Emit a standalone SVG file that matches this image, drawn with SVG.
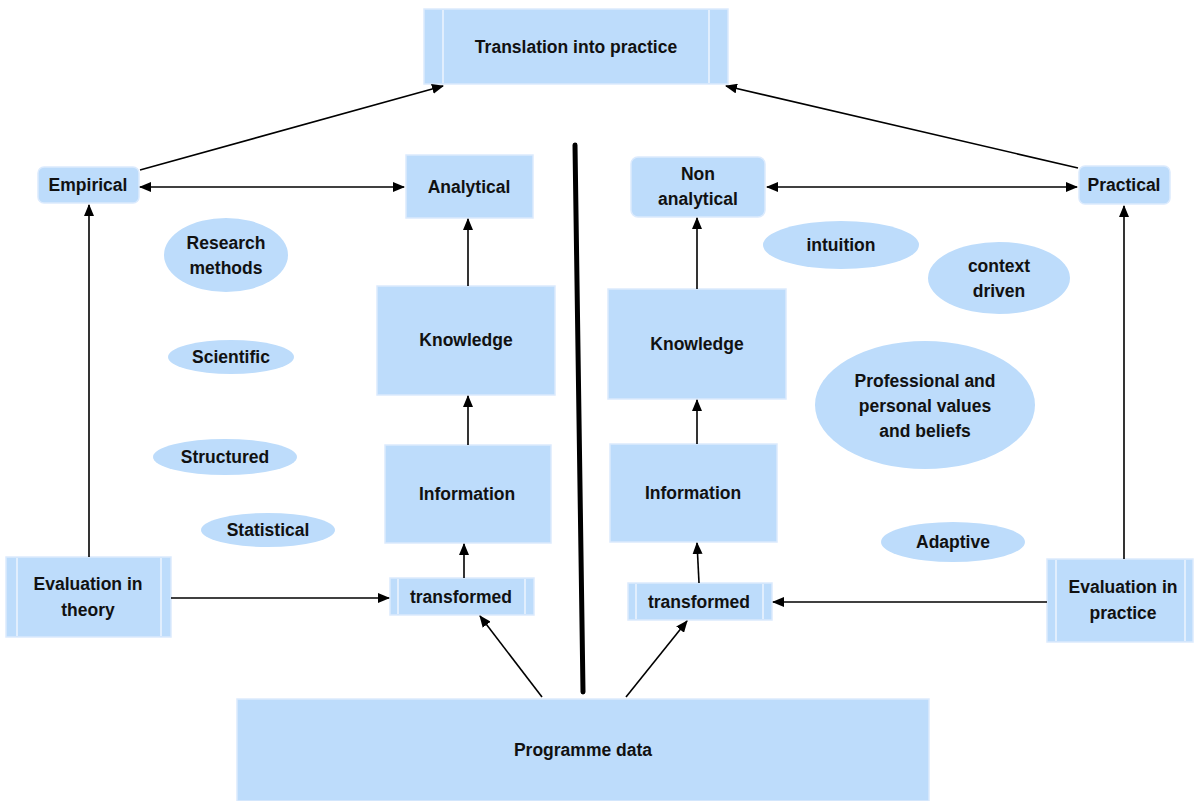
<svg xmlns="http://www.w3.org/2000/svg" width="1194" height="801" viewBox="0 0 1194 801">
<style>
.box{fill:#bddcfb;stroke:#dbeafd;stroke-width:1.5}
.el{fill:#bddcfb;stroke:none}
.sep{stroke:#eef5fe;stroke-width:1.5}
.t{font-family:"Liberation Sans",Arial,sans-serif;font-weight:bold;font-size:17.5px;fill:#111;text-anchor:middle}
.c{stroke:#000;stroke-width:1.6;fill:none}
</style>
<defs>
<marker id="ah" viewBox="0 0 12 10" refX="11" refY="5" markerWidth="12" markerHeight="10" markerUnits="userSpaceOnUse" orient="auto-start-reverse">
<path d="M0,0 L12,5 L0,10 Z" fill="#000"/>
</marker>
</defs>
<rect width="1194" height="801" fill="#fff"/>

<g id="translation">
<rect class="box" x="424" y="9" width="304" height="75"/>
<line class="sep" x1="443" y1="10" x2="443" y2="83"/>
<line class="sep" x1="709" y1="10" x2="709" y2="83"/>
<text class="t" x="576" y="53">Translation into practice</text>
</g>

<g id="empirical">
<rect class="box" x="38" y="167" width="101" height="36" rx="6"/>
<text class="t" x="88" y="191">Empirical</text>
</g>

<g id="analytical">
<rect class="box" x="406" y="155" width="127" height="63"/>
<text class="t" x="469" y="193">Analytical</text>
</g>

<g id="nonanalytical">
<rect class="box" x="631" y="157" width="134" height="60" rx="7"/>
<text class="t" x="698" y="180">Non</text>
<text class="t" x="698" y="205">analytical</text>
</g>

<g id="practical">
<rect class="box" x="1079" y="166" width="91" height="38" rx="6"/>
<text class="t" x="1124" y="191">Practical</text>
</g>

<g id="research">
<ellipse class="el" cx="226" cy="255" rx="62" ry="37"/>
<text class="t" x="226" y="249">Research</text>
<text class="t" x="226" y="274">methods</text>
</g>
<g id="scientific">
<ellipse class="el" cx="231" cy="357" rx="63" ry="17"/>
<text class="t" x="231" y="363">Scientific</text>
</g>
<g id="structured">
<ellipse class="el" cx="225" cy="457" rx="72" ry="18"/>
<text class="t" x="225" y="463">Structured</text>
</g>
<g id="statistical">
<ellipse class="el" cx="268" cy="530" rx="67" ry="17"/>
<text class="t" x="268" y="536">Statistical</text>
</g>

<g id="intuition">
<ellipse class="el" cx="841" cy="245" rx="78" ry="24"/>
<text class="t" x="841" y="251">intuition</text>
</g>
<g id="context">
<ellipse class="el" cx="999" cy="278" rx="71" ry="36"/>
<text class="t" x="999" y="272">context</text>
<text class="t" x="999" y="297">driven</text>
</g>
<g id="values">
<ellipse class="el" cx="925" cy="405" rx="110" ry="64"/>
<text class="t" x="925" y="387">Professional and</text>
<text class="t" x="925" y="412">personal values</text>
<text class="t" x="925" y="437">and beliefs</text>
</g>
<g id="adaptive">
<ellipse class="el" cx="953" cy="542" rx="72" ry="20"/>
<text class="t" x="953" y="548">Adaptive</text>
</g>

<g id="knowledge-left">
<rect class="box" x="377" y="286" width="178" height="109"/>
<text class="t" x="466" y="346">Knowledge</text>
</g>
<g id="information-left">
<rect class="box" x="385" y="445" width="166" height="98"/>
<text class="t" x="467" y="500">Information</text>
</g>
<g id="transformed-left">
<rect class="box" x="390" y="578" width="144" height="37"/>
<line class="sep" x1="398" y1="579" x2="398" y2="614"/>
<line class="sep" x1="525" y1="579" x2="525" y2="614"/>
<text class="t" x="461" y="603">transformed</text>
</g>

<g id="knowledge-right">
<rect class="box" x="608" y="289" width="178" height="110"/>
<text class="t" x="697" y="350">Knowledge</text>
</g>
<g id="information-right">
<rect class="box" x="610" y="444" width="167" height="98"/>
<text class="t" x="693" y="499">Information</text>
</g>
<g id="transformed-right">
<rect class="box" x="628" y="583" width="144" height="37"/>
<line class="sep" x1="636" y1="584" x2="636" y2="619"/>
<line class="sep" x1="763" y1="584" x2="763" y2="619"/>
<text class="t" x="699" y="608">transformed</text>
</g>

<g id="eval-theory">
<rect class="box" x="6" y="557" width="165" height="80"/>
<line class="sep" x1="17" y1="558" x2="17" y2="636"/>
<line class="sep" x1="161" y1="558" x2="161" y2="636"/>
<text class="t" x="88" y="590">Evaluation in</text>
<text class="t" x="88" y="616">theory</text>
</g>

<g id="eval-practice">
<rect class="box" x="1047" y="559" width="146" height="83"/>
<line class="sep" x1="1056" y1="560" x2="1056" y2="641"/>
<line class="sep" x1="1185" y1="560" x2="1185" y2="641"/>
<text class="t" x="1123" y="593">Evaluation in</text>
<text class="t" x="1123" y="619">practice</text>
</g>

<g id="programme">
<rect class="box" x="237" y="699" width="692" height="102"/>
<text class="t" x="583" y="756">Programme data</text>
</g>

<g id="divider">
<line x1="575" y1="145" x2="583" y2="692" stroke="#000" stroke-width="5" stroke-linecap="round"/>
</g>

<g id="connectors">
<line class="c" x1="140" y1="170" x2="443" y2="86" marker-end="url(#ah)"/>
<line class="c" x1="1078" y1="168" x2="726" y2="86" marker-end="url(#ah)"/>
<line class="c" x1="140" y1="187" x2="404" y2="187" marker-start="url(#ah)" marker-end="url(#ah)"/>
<line class="c" x1="767" y1="187" x2="1077" y2="187" marker-start="url(#ah)" marker-end="url(#ah)"/>
<line class="c" x1="89" y1="557" x2="89" y2="205" marker-end="url(#ah)"/>
<line class="c" x1="1124" y1="559" x2="1124" y2="206" marker-end="url(#ah)"/>
<line class="c" x1="468" y1="286" x2="468" y2="219" marker-end="url(#ah)"/>
<line class="c" x1="468" y1="445" x2="468" y2="396" marker-end="url(#ah)"/>
<line class="c" x1="464" y1="578" x2="464" y2="544" marker-end="url(#ah)"/>
<line class="c" x1="697" y1="289" x2="697" y2="218" marker-end="url(#ah)"/>
<line class="c" x1="697" y1="444" x2="697" y2="400" marker-end="url(#ah)"/>
<line class="c" x1="699" y1="583" x2="697" y2="543" marker-end="url(#ah)"/>
<line class="c" x1="171" y1="598" x2="389" y2="598" marker-end="url(#ah)"/>
<line class="c" x1="1047" y1="602" x2="773" y2="602" marker-end="url(#ah)"/>
<line class="c" x1="542" y1="697" x2="480" y2="616" marker-end="url(#ah)"/>
<line class="c" x1="626" y1="697" x2="687" y2="621" marker-end="url(#ah)"/>
</g>
</svg>
